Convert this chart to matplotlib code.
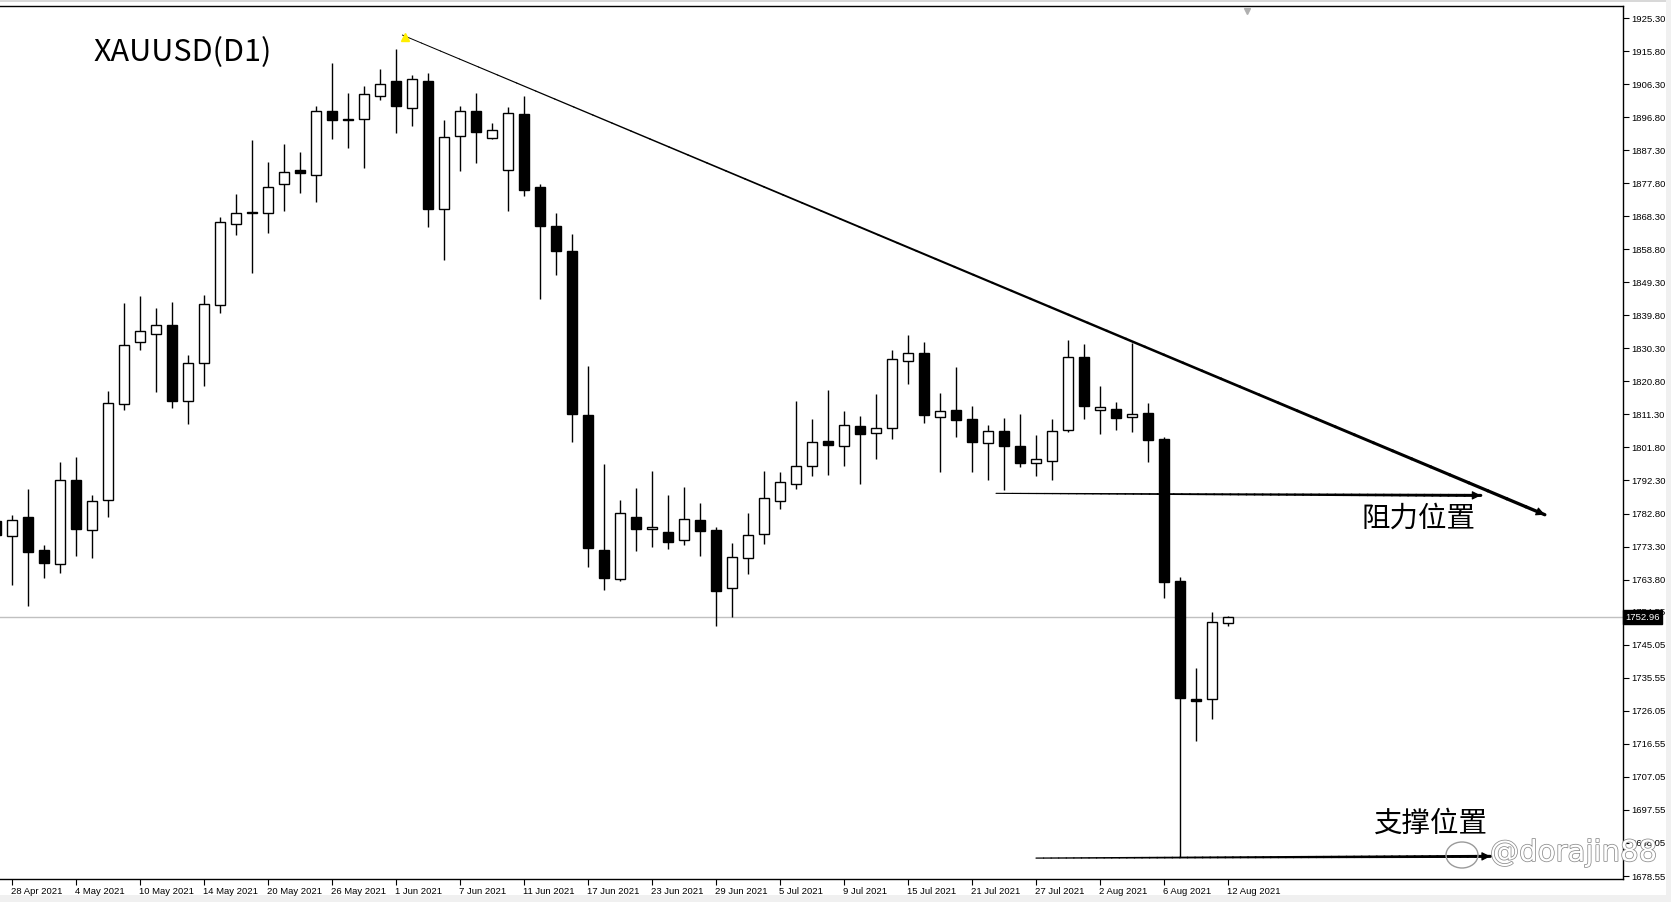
#!/usr/bin/env python
"""XAUUSD daily candlestick chart with hand-drawn trend / support / resistance arrows."""

from __future__ import annotations

import matplotlib

matplotlib.use("Agg")

import matplotlib.pyplot as plt
import matplotlib.transforms as mtransforms
import numpy as np
import pandas as pd
from matplotlib import patheffects
from matplotlib.collections import LineCollection
from matplotlib.patches import Ellipse, Rectangle

# ---- data (27 Apr 2021 .. 12 Aug 2021, weekdays) ----
dates = pd.bdate_range("2021-04-27", "2021-08-12")

opens = [
    1780.6, 1776.4, 1781.7, 1772.3, 1768.2, 1792.5, 1778.1, 1786.8, 1814.4, 1832.2,
    1834.5, 1836.9, 1815.2, 1826.2, 1842.8, 1866.2, 1869.3, 1869.3, 1877.5, 1881.6,
    1880.2, 1898.6, 1896.0, 1896.3, 1902.9, 1907.1, 1899.5, 1907.3, 1870.3, 1891.5,
    1898.6, 1890.8, 1881.7, 1897.8, 1876.6, 1865.6, 1858.2, 1811.2, 1772.3, 1764.0,
    1781.7, 1778.2, 1777.4, 1775.1, 1780.8, 1778.1, 1761.3, 1769.9, 1776.8, 1786.3,
    1791.2, 1796.4, 1803.7, 1802.1, 1807.9, 1805.9, 1807.3, 1826.8, 1828.9, 1810.5,
    1812.6, 1809.9, 1803.0, 1806.4, 1802.1, 1797.3, 1797.8, 1806.7, 1827.7, 1812.5,
    1812.8, 1810.5, 1811.8, 1804.2, 1763.4, 1729.4, 1729.4, 1751.3,
]
highs = [
    1782.5, 1782.3, 1789.8, 1773.6, 1797.7, 1799.0, 1788.0, 1817.9, 1843.2, 1845.3,
    1841.8, 1843.6, 1828.5, 1845.7, 1868.2, 1874.8, 1890.1, 1883.8, 1889.2, 1886.8,
    1900.1, 1912.3, 1903.6, 1905.7, 1910.5, 1916.5, 1909.0, 1909.6, 1896.1, 1900.1,
    1903.6, 1895.0, 1899.8, 1903.0, 1877.6, 1869.2, 1863.1, 1825.2, 1797.1, 1786.8,
    1790.0, 1795.0, 1788.1, 1790.4, 1785.8, 1778.8, 1774.3, 1783.0, 1795.0, 1794.6,
    1815.2, 1810.0, 1818.3, 1812.3, 1810.8, 1817.2, 1829.8, 1834.1, 1832.0, 1817.5,
    1824.9, 1813.7, 1808.3, 1810.3, 1811.4, 1805.4, 1810.0, 1832.6, 1831.5, 1819.5,
    1815.0, 1831.7, 1814.7, 1804.8, 1764.5, 1738.4, 1754.4, 1753.3,
]
lows = [
    1774.5, 1762.3, 1756.1, 1764.2, 1765.7, 1770.7, 1769.9, 1781.8, 1812.6, 1829.8,
    1817.7, 1813.1, 1808.5, 1819.6, 1840.4, 1862.9, 1852.0, 1863.5, 1869.8, 1874.9,
    1872.3, 1890.5, 1888.0, 1882.1, 1901.6, 1892.2, 1894.2, 1865.2, 1855.8, 1881.4,
    1883.6, 1890.5, 1869.8, 1874.1, 1844.4, 1851.4, 1803.5, 1767.3, 1760.7, 1763.5,
    1772.1, 1773.2, 1772.7, 1773.6, 1770.7, 1750.5, 1753.1, 1765.5, 1774.1, 1784.2,
    1789.9, 1793.7, 1794.0, 1796.6, 1791.4, 1798.6, 1804.3, 1820.1, 1808.9, 1794.8,
    1804.9, 1794.6, 1792.5, 1789.7, 1796.3, 1793.5, 1792.5, 1806.2, 1810.1, 1805.8,
    1806.9, 1806.3, 1797.7, 1758.6, 1683.9, 1717.5, 1723.8, 1750.4,
]
closes = [
    1776.6, 1780.9, 1771.7, 1768.7, 1792.5, 1778.2, 1786.5, 1814.7, 1831.4, 1835.3,
    1836.9, 1815.2, 1826.2, 1843.1, 1866.7, 1869.3, 1869.4, 1876.8, 1881.0, 1880.6,
    1898.6, 1896.0, 1895.9, 1903.4, 1906.3, 1899.9, 1907.8, 1870.3, 1891.1, 1898.6,
    1892.5, 1893.1, 1898.1, 1875.9, 1865.5, 1858.3, 1811.3, 1773.0, 1764.2, 1782.9,
    1778.4, 1778.8, 1774.7, 1781.1, 1777.9, 1760.6, 1770.2, 1776.5, 1787.2, 1791.8,
    1796.4, 1803.3, 1802.6, 1808.2, 1805.8, 1807.3, 1827.1, 1829.1, 1811.2, 1812.2,
    1809.8, 1803.3, 1806.4, 1802.1, 1797.2, 1798.4, 1806.6, 1827.7, 1813.8, 1813.3,
    1810.4, 1811.5, 1804.0, 1763.2, 1729.6, 1728.8, 1751.6, 1752.96,
]

y_ticks = [
    1925.30, 1915.80, 1906.30, 1896.80, 1887.30, 1877.80, 1868.30, 1858.80, 1849.30,
    1839.80, 1830.30, 1820.80, 1811.30, 1801.80, 1792.30, 1782.80, 1773.30, 1763.80,
    1754.55, 1745.05, 1735.55, 1726.05, 1716.55, 1707.05, 1697.55, 1688.05, 1678.55,
]
last_price = 1752.96

# hand-drawn annotations, in (bar index, price)
trend_x = [25.4, 96.8]
trend_y = [1920.4, 1782.45]
resist_x = [62.5, 92.8]
resist_y = [1788.6, 1788.0]
support_x = [65.0, 93.4]
support_y = [1683.7, 1684.2]

W_PX, H_PX = 1671, 902
AX_RIGHT_PX, AX_TOP_PX, AX_BOTTOM_PX = 1623, 6, 879
BAR_PX = 16.0


def tapered_arrow(ax, xs, ys, w0, w1, head=True, n=60):
    px = np.linspace(xs[0], xs[1], n + 1)
    py = np.linspace(ys[0], ys[1], n + 1)
    segs = [[(px[i], py[i]), (px[i + 1], py[i + 1])] for i in range(n)]
    lc = LineCollection(segs, linewidths=np.linspace(w0, w1, n), colors="black",
                        capstyle="round", zorder=6)
    ax.add_collection(lc)
    if head:
        ax.annotate("", xy=(px[-1], py[-1]), xytext=(px[-4], py[-4]),
                    arrowprops=dict(arrowstyle="-|>", mutation_scale=13,
                                    color="black", lw=0.8, shrinkA=0, shrinkB=0),
                    zorder=7)


def draw_candles(ax, xs):
    body_w = 0.64
    ax.vlines(xs, lows, highs, color="black", lw=1.0, zorder=2)
    for x, o, c in zip(xs, opens, closes):
        bottom = min(o, c)
        height = max(abs(c - o), 0.35)
        up = c >= o
        ax.add_patch(Rectangle((x - body_w / 2, bottom), body_w, height,
                               facecolor="white" if up else "black",
                               edgecolor="black", lw=1.0, zorder=3))


def main() -> None:
    plt.rcParams["font.family"] = ["Noto Sans CJK SC", "DejaVu Sans"]
    fig = plt.figure(figsize=(W_PX / 100, H_PX / 100), dpi=100)
    ax = fig.add_axes([0, (H_PX - AX_BOTTOM_PX) / H_PX, AX_RIGHT_PX / W_PX,
                       (AX_BOTTOM_PX - AX_TOP_PX) / H_PX])

    xs = np.arange(len(dates))
    draw_candles(ax, xs)

    # x range: 28 Apr (index 1) sits 12 px from the left edge
    x_left = 1 - 12 / BAR_PX
    ax.set_xlim(x_left, x_left + AX_RIGHT_PX / BAR_PX)
    price_per_px = (1925.30 - 1678.55) / (876 - 18)
    ax.set_ylim(1678.55 - (AX_BOTTOM_PX - 876) * price_per_px,
                1925.30 + (18 - AX_TOP_PX) * price_per_px)

    # axes / ticks, MT4 style
    ax.spines["left"].set_visible(False)
    for side in ("top", "right", "bottom"):
        ax.spines[side].set_linewidth(1.0)
    ax.yaxis.tick_right()
    ax.set_yticks(y_ticks)
    ax.set_yticklabels([f"{v:.2f}" for v in y_ticks], family="Liberation Sans", fontsize=6.8)
    ax.tick_params(axis="y", length=4, width=0.8, pad=2)

    tick_idx = xs[1::4]
    ax.set_xticks(tick_idx)
    ax.set_xticklabels([f"{d.day} {d.strftime('%b')} {d.year}" for d in dates[1::4]],
                       family="Liberation Sans", fontsize=6.8)
    ax.tick_params(axis="x", length=4, width=0.8, pad=1.5)
    offset = mtransforms.ScaledTranslation(-1 / 100, 0, fig.dpi_scale_trans)
    for lab in ax.get_xticklabels():
        lab.set_horizontalalignment("left")
        lab.set_transform(lab.get_transform() + offset)

    # last price line and box
    ax.axhline(last_price, color="#c0c0c0", lw=1.0, zorder=1)
    ax.text(1.0015, last_price, f"{last_price:.2f}", transform=ax.get_yaxis_transform(),
            ha="left", va="center", color="white", fontsize=6.8, family="Liberation Sans",
            bbox=dict(boxstyle="square,pad=0.25", facecolor="black", edgecolor="black"),
            clip_on=False, zorder=10)

    # chart shift marker
    ax.plot([78.2], [1927.2], marker="v", color="#b0b0b0", ms=5, zorder=4, clip_on=False)

    # trend line with yellow anchor, resistance and support arrows
    tapered_arrow(ax, trend_x, trend_y, 0.7, 2.4)
    ax.plot([trend_x[0] + 0.15], [trend_y[0] - 0.6], marker="^", color="#ffee00",
            ms=6, zorder=8)
    tapered_arrow(ax, resist_x, resist_y, 0.8, 2.2)
    tapered_arrow(ax, support_x, support_y, 0.9, 2.2)

    ax.text(88.9, 1781.4, "阻力位置", fontsize=20.5, ha="center", va="center", zorder=9)
    ax.text(89.7, 1693.5, "支撑位置", fontsize=20.5, ha="center", va="center", zorder=9)
    ax.text(93 / AX_RIGHT_PX, 0.947, "XAUUSD(D1)", transform=ax.transAxes,
            fontsize=22, ha="left", va="center", zorder=9)

    # watermark
    fig.text(1490 / W_PX, 1 - 853 / H_PX, "@dorajin88", fontsize=21, color="white",
             family="DejaVu Sans", ha="left", va="center", zorder=20,
             path_effects=[patheffects.withStroke(linewidth=1.1, foreground="#8c8c8c")])
    fig.add_artist(Ellipse((1462 / W_PX, 1 - 855 / H_PX), 32 / W_PX, 26 / H_PX,
                           transform=fig.transFigure, fill=False, edgecolor="#9a9a9a",
                           lw=1.0, zorder=20))

    # window chrome
    fig.add_artist(Rectangle((0, 1 - 2 / H_PX), 1, 2 / H_PX, transform=fig.transFigure,
                             facecolor="#d8d8d8", edgecolor="none", zorder=0))
    fig.add_artist(Rectangle((1 - 5 / W_PX, 0), 5 / W_PX, 1, transform=fig.transFigure,
                             facecolor="#f0f0f0", edgecolor="none", zorder=0))
    fig.add_artist(Rectangle((0, 0), 1, 7 / H_PX, transform=fig.transFigure,
                             facecolor="#f0f0f0", edgecolor="none", zorder=0))

    fig.savefig("out.png", dpi=100, facecolor="white")
    plt.close(fig)


if __name__ == "__main__":
    main()
